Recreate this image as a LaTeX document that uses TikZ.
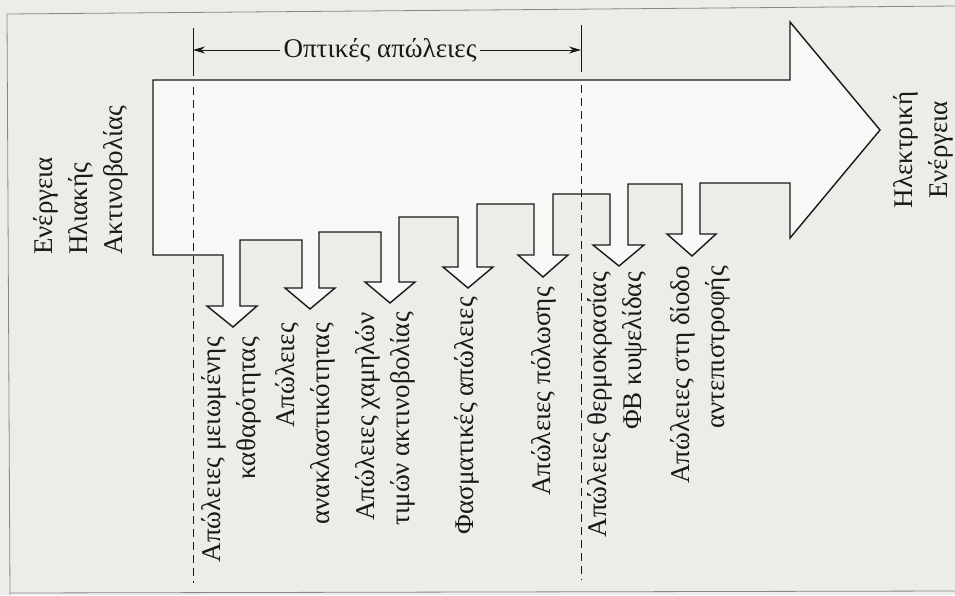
\documentclass[tikz,border=0pt]{standalone}
\usepackage{fontspec}
\setmainfont{Liberation Serif}
\usetikzlibrary{arrows.meta}
\definecolor{paper}{RGB}{236,236,232}
\definecolor{flow}{RGB}{248,248,246}
\definecolor{ink}{RGB}{25,25,25}
\definecolor{rim}{RGB}{135,135,135}
\tikzset{
  flowbody/.style={draw=ink, line width=1.4pt, fill=flow, line join=miter},
  guide/.style={draw=ink, line width=0.9pt},
  guidedash/.style={guide, dash pattern=on 8pt off 5pt},
  dimline/.style={draw=ink, line width=0.9pt, -{Stealth[length=12pt,width=7pt]}},
  caption/.style={font=\fontsize{27}{35}\selectfont, inner sep=0pt, text=ink},
  losslabel/.style={caption, rotate=90, anchor=east, align=right},
}
\begin{document}
\begin{tikzpicture}[x=1pt,y=-1pt]
% page and frame
\fill[paper] (0,0) rectangle (955,595);
\useasboundingbox (0,0) rectangle (955,595);
\draw[rim, line width=0.8pt] (7,14) -- (955,6);
\draw[rim, line width=0.8pt] (7,14) -- (10,595);
\draw[rim, line width=0.8pt] (10,593) -- (955,591);

% energy flow: main band, branching loss arrows, output arrowhead
\draw[flowbody]
  (153,80) -- (790,80) -- (790,22) -- (880,130) -- (790,238) -- (790,183)
  -- (700,183) -- (700,234) -- (716,234) -- (692,256) -- (667,234) -- (682,234) -- (682,184)
  -- (628,184) -- (628,245) -- (644,245) -- (619,266) -- (593,245) -- (610,245) -- (610,194)
  -- (553,194) -- (553,255) -- (568,255) -- (543,277) -- (518,255) -- (534,255) -- (534,204)
  -- (477,204) -- (477,267) -- (493,267) -- (468,288) -- (443,267) -- (458,267) -- (458,217)
  -- (399,217) -- (399,282) -- (415,282) -- (390,303) -- (365,282) -- (381,282) -- (381,232)
  -- (319,232) -- (319,288) -- (335,288) -- (310,309) -- (285,288) -- (302,288) -- (302,240)
  -- (240,240) -- (240,306) -- (257,306) -- (233,327) -- (207,306) -- (223,306) -- (223,255)
  -- (153,255) -- cycle;

% extent of the optical losses
\coordinate (optTopL) at (193,28);
\coordinate (optL) at (193,50);
\coordinate (optBotL) at (193,76);
\coordinate (optTopR) at (581,25);
\coordinate (optR) at (581,50);
\coordinate (optBotR) at (581,72);
\draw[guide] (optTopL) -- (optBotL);
\draw[guide] (optTopR) -- (optBotR);
\draw[guidedash] (193,87) -- (193,583);
\draw[guidedash] (581,85) -- (581,580);
\node[caption, inner sep=3pt] (optical) at (380,50) {Οπτικές απώλειες};
\draw[dimline] (optical.west) -- (optL);
\draw[dimline] (optical.east) -- (optR);

% input and output
\node[caption, rotate=90, anchor=west, align=left] (solar) at (81,255)
  {Ενέργεια\\Ηλιακής\\Ακτινοβολίας};
\node[caption, rotate=90, align=center] (electric) at (923,150)
  {Ηλεκτρική\\Ενέργεια};

% loss labels under the arrow tips
\node[losslabel] (loss1) at (231,337) {Απώλειες μειωμένης\\καθαρότητας};
\node[losslabel] (loss2) at (305,323) {Απώλειες\\ανακλαστικότητας};
\node[losslabel] (loss3) at (385,312) {Απώλειες χαμηλών\\τιμών ακτινοβολίας};
\node[losslabel] (loss4) at (467,297) {Φασματικές απώλειες};
\node[losslabel] (loss5) at (544,287) {Απώλειες πόλωσης};
\node[losslabel] (loss6) at (617,272) {Απώλειες θερμοκρασίας\\ΦΒ κυψελίδας};
\node[losslabel] (loss7) at (700,266) {Απώλειες στη δίοδο\\αντεπιστροφής};
\end{tikzpicture}
\end{document}
